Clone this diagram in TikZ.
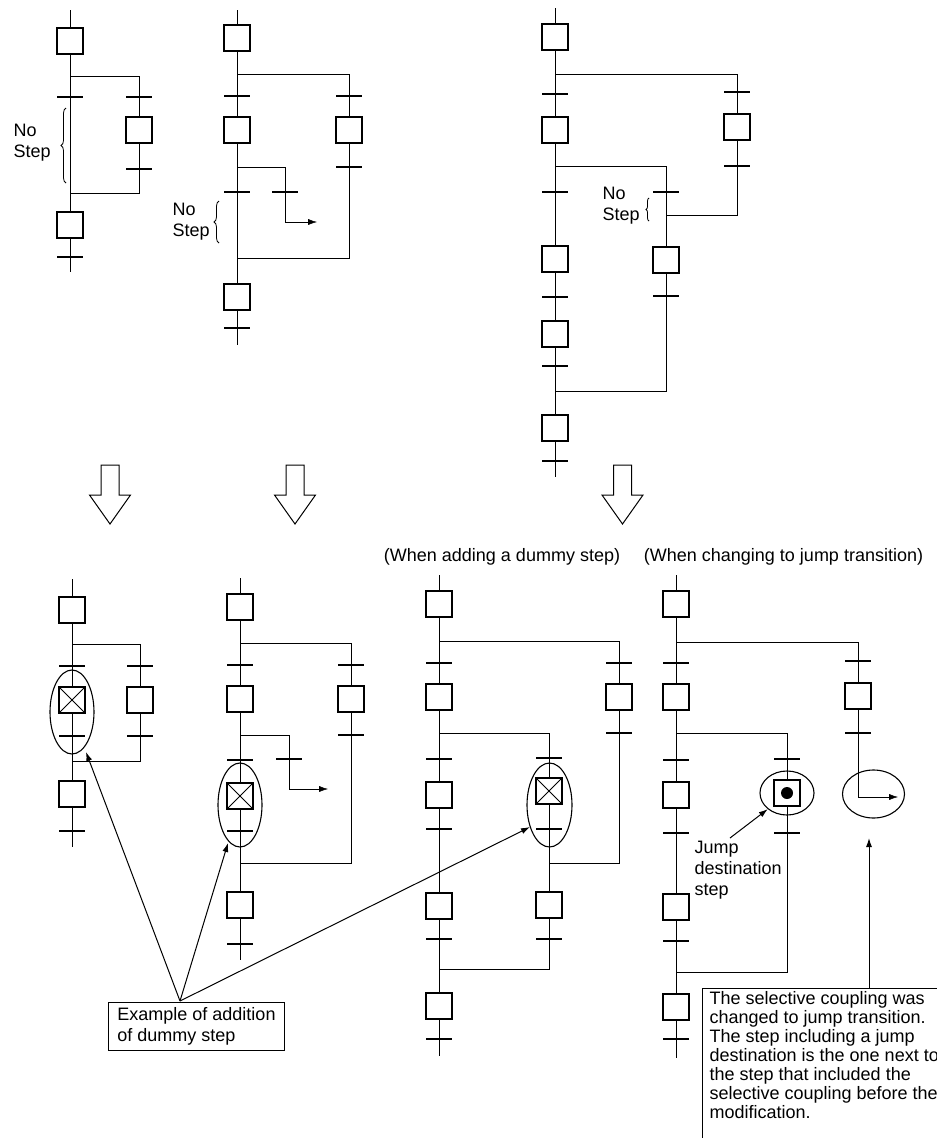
\documentclass[tikz,border=0pt]{standalone}
\usepackage{fontspec}
\setmainfont{Liberation Sans}
\usepackage{tikz}
\usetikzlibrary{arrows.meta,positioning,backgrounds,shapes.geometric,decorations.pathreplacing}

\tikzset{
  sbox/.style={draw, fill=white, minimum size=26pt, inner sep=0pt},
  dbox/.style={sbox, path picture={\draw[line width=0.9pt]
      (path picture bounding box.north west) -- (path picture bounding box.south east)
      (path picture bounding box.north east) -- (path picture bounding box.south west);}},
  tr/.style={fill=black, inner sep=0pt, minimum width=26pt, minimum height=1.3pt},
  ring/.style={draw, ellipse, inner sep=0pt, line width=1.1pt},
  lbl/.style={align=left, inner sep=0pt},
  brc/.style={decorate, decoration={brace, amplitude=#1}, line width=0.8pt},
  note/.style={line width=1pt},
}
\newcommand{\hollowdown}[1]{\draw[fill=white, line width=1pt] (#1-9,465) -- ++(18,0) -- ++(0,30)
  -- ++(11.5,0) -- ++(-20.5,29) -- ++(-20.5,-29) -- ++(11.5,0) -- cycle;}

\begin{document}
\begin{tikzpicture}[x=1pt, y=-1pt, line width=1.3pt, >={Latex[length=9pt,width=6pt]},
  font=\fontsize{18}{21}\selectfont]
  \useasboundingbox (0,0) rectangle (937,1138);
  \clip (0,0) rectangle (937,1138);

% a: before, no step in the left path
  \coordinate (aT) at (70,10); \coordinate (aE) at (70,272);%
  \coordinate (aS) at (70,76); \coordinate (aSR) at (139,76);%
  \coordinate (aJ) at (70,193); \coordinate (aJR) at (139,193);%
  \node[sbox] (a1) at (70,41) {};%
  \node[tr] (at1) at (70,97) {};%
  \node[tr] (at2) at (139,97) {};%
  \node[sbox] (a2) at (139,130) {};%
  \node[tr] (at3) at (139,169) {};%
  \node[sbox] (a3) at (70,225) {};%
  \node[tr] (at4) at (70,257) {};%
  \node[lbl, anchor=west] (an) at (13,143) {No\\Step};%
  \draw[brc=5pt] (66,183) -- (66,108);

% b: before, no step under the jump branch
  \coordinate (bT) at (237,10); \coordinate (bE) at (237,345);%
  \coordinate (bS) at (237,74); \coordinate (bSR) at (349,74);%
  \coordinate (bJ) at (237,258); \coordinate (bJR) at (349,258);%
  \coordinate (bK) at (237,167); \coordinate (bKR) at (285,167);%
  \coordinate (bKD) at (285,222); \coordinate (bKA) at (317,222);%
  \node[sbox] (b1) at (237,38) {};%
  \node[tr] (bt1) at (237,96) {};%
  \node[tr] (bt2) at (349,96) {};%
  \node[sbox] (b2) at (237,130) {};%
  \node[sbox] (b3) at (349,130) {};%
  \node[tr] (bt3) at (349,167) {};%
  \node[tr] (bt4) at (285,192) {};%
  \node[tr] (bt5) at (237,192) {};%
  \node[sbox] (b4) at (237,297) {};%
  \node[tr] (bt6) at (237,328) {};%
  \node[lbl, anchor=west] (bn) at (172,222) {No\\Step};%
  \draw[brc=5pt] (219,243) -- (219,201);

% c: before, nested branch with no step
  \coordinate (cT) at (555,8); \coordinate (cE) at (555,477);%
  \coordinate (cS) at (555,74); \coordinate (cSR) at (737,74);%
  \coordinate (cM) at (666,215); \coordinate (cMR) at (737,215);%
  \coordinate (cK) at (555,166); \coordinate (cKR) at (666,166);%
  \coordinate (cJ) at (555,391); \coordinate (cJR) at (666,391);%
  \node[sbox] (c1) at (555,37) {};%
  \node[tr] (ct1) at (555,94) {};%
  \node[tr] (ct2) at (737,92) {};%
  \node[sbox] (c2) at (555,130) {};%
  \node[sbox] (c3) at (737,127) {};%
  \node[tr] (ct3) at (737,166) {};%
  \node[tr] (ct4) at (555,192) {};%
  \node[tr] (ct5) at (666,192) {};%
  \node[sbox] (c4) at (555,259) {};%
  \node[sbox] (c5) at (666,260) {};%
  \node[tr] (ct6) at (555,297) {};%
  \node[tr] (ct7) at (666,296) {};%
  \node[sbox] (c6) at (555,334) {};%
  \node[tr] (ct8) at (555,366) {};%
  \node[sbox] (c7) at (555,428) {};%
  \node[tr] (ct9) at (555,461) {};%
  \node[lbl, anchor=west] (cn) at (602,206) {No\\Step};%
  \draw[brc=3pt] (649,221) -- (649,198);

% arrows and captions
  \hollowdown{110}
  \hollowdown{295}
  \hollowdown{622.5}
  \node (cap1) at (502,557) {(When adding a dummy step)};%
  \node (cap2) at (783.5,557) {(When changing to jump transition)};%

% d: dummy step added
  \coordinate (dT) at (72,579); \coordinate (dE) at (72,847);%
  \coordinate (dS) at (72,644); \coordinate (dSR) at (140,644);%
  \coordinate (dJ) at (72,761); \coordinate (dJR) at (140,761);%
  \node[sbox] (d1) at (72,610) {};%
  \node[tr] (dt1) at (72,666) {};%
  \node[tr] (dt2) at (140,666) {};%
  \node[dbox] (d2) at (72,700) {};%
  \node[sbox] (d3) at (140,700) {};%
  \node[tr] (dt3) at (72,736) {};%
  \node[tr] (dt4) at (140,736) {};%
  \node[sbox] (d4) at (72,794) {};%
  \node[tr] (dt5) at (72,831) {};%
  \node[ring, minimum width=44pt, minimum height=84pt] (dR) at (72,712) {};%

% e: dummy step added
  \coordinate (eT) at (240,578); \coordinate (eE) at (240,960);%
  \coordinate (eS) at (240,643); \coordinate (eSR) at (351,643);%
  \coordinate (eJ) at (240,863); \coordinate (eJR) at (351,863);%
  \coordinate (eK) at (240,735); \coordinate (eKR) at (289,735);%
  \coordinate (eKD) at (289,789); \coordinate (eKA) at (328,789);%
  \node[sbox] (e1) at (240,607) {};%
  \node[tr] (et1) at (240,665) {};%
  \node[tr] (et2) at (351,665) {};%
  \node[sbox] (e2) at (240,699) {};%
  \node[sbox] (e3) at (351,699) {};%
  \node[tr] (et3) at (351,735) {};%
  \node[tr] (et4) at (289,759) {};%
  \node[tr] (et5) at (240,760) {};%
  \node[dbox] (e4) at (240,796) {};%
  \node[tr] (et6) at (240,831) {};%
  \node[sbox] (e5) at (240,905) {};%
  \node[tr] (et7) at (240,944) {};%
  \node[ring, minimum width=44pt, minimum height=84pt] (eR) at (240,805) {};%

% f: dummy step added in the nested branch
  \coordinate (fT) at (439,575); \coordinate (fE) at (439,1056);%
  \coordinate (fS) at (439,641); \coordinate (fSR) at (619,641);%
  \coordinate (fM) at (549,863); \coordinate (fMR) at (619,863);%
  \coordinate (fK) at (439,733); \coordinate (fKR) at (549,733);%
  \coordinate (fJ) at (439,969); \coordinate (fJR) at (549,969);%
  \node[sbox] (f1) at (439,604) {};%
  \node[tr] (ft1) at (439,663) {};%
  \node[tr] (ft2) at (619,663) {};%
  \node[sbox] (f2) at (439,697) {};%
  \node[sbox] (f3) at (619,697) {};%
  \node[tr] (ft3) at (619,733) {};%
  \node[tr] (ft4) at (439,759) {};%
  \node[tr] (ft5) at (549,758) {};%
  \node[dbox] (f4) at (549,791) {};%
  \node[sbox] (f5) at (439,795) {};%
  \node[tr] (ft6) at (439,829) {};%
  \node[tr] (ft7) at (549,829) {};%
  \node[sbox] (f6) at (439,906) {};%
  \node[sbox] (f7) at (549,905) {};%
  \node[tr] (ft8) at (439,939) {};%
  \node[tr] (ft9) at (549,939) {};%
  \node[sbox] (f8) at (439,1006) {};%
  \node[tr] (ft10) at (439,1039) {};%
  \node[ring, minimum width=45pt, minimum height=84pt] (fR) at (549.5,805) {};%

% g: changed to jump transition
  \coordinate (gT) at (676,575); \coordinate (gE) at (676,1058);%
  \coordinate (gS) at (676,642); \coordinate (gSR) at (858,642);%
  \coordinate (gSD) at (858,797); \coordinate (gSA) at (898,797);%
  \coordinate (gK) at (676,733); \coordinate (gKR) at (787,733);%
  \coordinate (gJ) at (676,972); \coordinate (gJR) at (787,972);%
  \node[sbox] (g1) at (676,604) {};%
  \node[tr] (gt1) at (676,663) {};%
  \node[tr] (gt2) at (858,661) {};%
  \node[sbox] (g2) at (676,697) {};%
  \node[sbox] (g3) at (858,696) {};%
  \node[tr] (gt3) at (858,733) {};%
  \node[tr] (gt4) at (676,760) {};%
  \node[tr] (gt5) at (787,759) {};%
  \node[sbox] (g4) at (787,793) {};%
  \node[circle, fill, inner sep=0pt, minimum size=12pt] (gdot) at (g4) {};%
  \node[sbox] (g5) at (676,795) {};%
  \node[tr] (gt6) at (676,833) {};%
  \node[tr] (gt7) at (787,833) {};%
  \node[sbox] (g6) at (676,907) {};%
  \node[tr] (gt8) at (676,941) {};%
  \node[sbox] (g7) at (676,1007) {};%
  \node[tr] (gt9) at (676,1039) {};%
  \node[ring, minimum width=54pt, minimum height=44pt] (gR1) at (787,793) {};%
  \node[ring, minimum width=62pt, minimum height=48pt] (gR2) at (873.5,794) {};%

% notes
  \node[lbl, draw, note, inner xsep=8.5pt, inner ysep=5pt] (ex) at (196.5,1026.5) {Example of addition\\of dummy step};%
  \coordinate (exA) at (180,1001);%
  \coordinate (dTip) at (86,752); \coordinate (eTip) at (228,843); \coordinate (fTip) at (530,827);%
  \node[lbl, anchor=west] (jl) at (694,870) {Jump\\destination\\step};%
  \coordinate (jlA) at (730,838);%
  \node[lbl, anchor=north west, font=\fontsize{18}{19}\selectfont] (jn) at (709,991)
    {The selective coupling was\\changed to jump transition.\\The step including a jump\\destination is the one next to\\the step that included the\\selective coupling before the\\modification.};%
  \coordinate (jnA) at (869,988); \coordinate (jnB) at (869,838);%

% edges
  \begin{scope}[on background layer]
    \draw (aT) -- (aE);
    \draw (aS) -- (aSR) -- (aJR) -- (aJ);
    \draw (bT) -- (bE);
    \draw (bS) -- (bSR) -- (bJR) -- (bJ);
    \draw[->] (bK) -- (bKR) -- (bKD) -- (bKA);
    \draw (cT) -- (cE);
    \draw (cS) -- (cSR) -- (cMR) -- (cM);
    \draw (cK) -- (cKR) -- (cJR) -- (cJ);
    \draw (dT) -- (dE);
    \draw (dS) -- (dSR) -- (dJR) -- (dJ);
    \draw (eT) -- (eE);
    \draw (eS) -- (eSR) -- (eJR) -- (eJ);
    \draw[->] (eK) -- (eKR) -- (eKD) -- (eKA);
    \draw (fT) -- (fE);
    \draw (fS) -- (fSR) -- (fMR) -- (fM);
    \draw (fK) -- (fKR) -- (fJR) -- (fJ);
    \draw (gT) -- (gE);
    \draw[->] (gS) -- (gSR) -- (gSD) -- (gSA);
    \draw (gK) -- (gKR) -- (gJR) -- (gJ);
  \end{scope}
  \draw[->, note] (exA) -- (dTip);
  \draw[->, note] (exA) -- (eTip);
  \draw[->, note] (exA) -- (fTip);
  \draw[->, note] (jlA) -- (gR1.220);
  \draw[->, note] (jnA) -- (jnB);
  \draw[note] ([shift={(-7pt,3pt)}]jn.north west) rectangle ++(260,170);
\end{tikzpicture}
\end{document}
